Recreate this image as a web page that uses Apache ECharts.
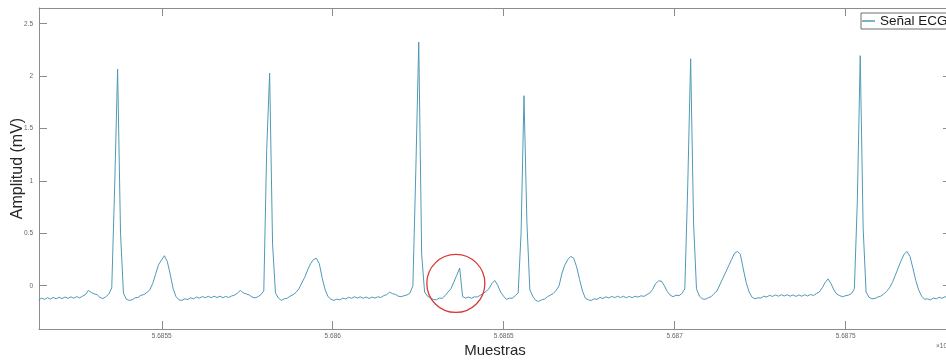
<!DOCTYPE html>
<html>
<head>
<meta charset="utf-8">
<script src="https://cdn.jsdelivr.net/npm/echarts@6/dist/echarts.min.js"></script>
<style>
  html, body { margin: 0; padding: 0; background: #ffffff; }
  #chart { width: 946px; height: 361px; }
</style>
</head>
<body>
<div id="chart"></div>
<script>
// ECG excerpt: one amplitude value (mV) every pasoMuestras samples, starting at primeraMuestra
const primeraMuestra = 5685140;
const pasoMuestras = 8.55;
const amplitud = [
  -0.135, -0.118, -0.130, -0.114, -0.127, -0.112, -0.125, -0.110, -0.123, -0.108, -0.121, -0.106, -0.119, -0.104, -0.116, -0.100, -0.085,
  -0.045, -0.065, -0.078, -0.086, -0.112, -0.122, -0.105, -0.080,
  -0.020, 0.950, 2.068, 0.500, -0.070,
  -0.130, -0.140, -0.135, -0.115, -0.112, -0.090, -0.085, -0.065, -0.040,
  0.020, 0.110, 0.200, 0.245, 0.286, 0.230, 0.110, -0.030, -0.105,
  -0.135, -0.140, -0.125, -0.132, -0.115, -0.125, -0.108, -0.118, -0.103, -0.115, -0.101, -0.114, -0.100, -0.113, -0.100, -0.114, -0.103, -0.112, -0.098,
  -0.090, -0.070, -0.045, -0.068, -0.078, -0.088, -0.108, -0.117, -0.105, -0.085,
  -0.050, 1.300, 2.030, 0.400, -0.070,
  -0.117, -0.140, -0.125, -0.120, -0.100, -0.085, -0.065,
  -0.030, 0.026, 0.080, 0.150, 0.210, 0.250, 0.262, 0.210, 0.070, -0.040, -0.105,
  -0.130, -0.140, -0.128, -0.135, -0.118, -0.127, -0.110, -0.120, -0.105, -0.118, -0.106, -0.120, -0.108, -0.122, -0.108, -0.118, -0.106, -0.112,
  -0.095, -0.085, -0.062, -0.075, -0.082, -0.100, -0.105, -0.095, -0.088, -0.070,
  0.000, 1.100, 2.325, 0.300, -0.060,
  -0.100, -0.117, -0.130, -0.135, -0.118, -0.120, -0.095, -0.060, -0.030, 0.035, 0.100,
  0.169, -0.105,
  -0.118, -0.108, -0.120, -0.106, -0.108, -0.092, -0.075, -0.055, -0.030,
  0.020, 0.050, 0.005, -0.060, -0.100, -0.130, -0.118, -0.120, -0.095, -0.070,
  0.500, 1.813, 0.600, -0.040,
  -0.100, -0.140, -0.150, -0.135, -0.128, -0.105, -0.090, -0.075, -0.045,
  0.000, 0.120, 0.200, 0.250, 0.280, 0.262, 0.180, 0.060, -0.050, -0.120,
  -0.135, -0.140, -0.125, -0.130, -0.112, -0.122, -0.106, -0.117, -0.102, -0.114, -0.100, -0.113, -0.101, -0.115, -0.102, -0.114, -0.100, -0.110, -0.096, -0.102,
  -0.085, -0.070, -0.035, 0.020, 0.045, 0.045, 0.000, -0.055, -0.090, -0.105, -0.090, -0.095, -0.075,
  -0.030, 0.950, 2.166, 0.600, -0.030,
  -0.100, -0.125, -0.130, -0.115, -0.105, -0.075, -0.050,
  0.010, 0.070, 0.130, 0.190, 0.250, 0.310, 0.327, 0.300, 0.160, 0.030, -0.060,
  -0.110, -0.125, -0.115, -0.118, -0.100, -0.108, -0.092, -0.102, -0.088, -0.100, -0.086, -0.098, -0.086, -0.100, -0.088, -0.102, -0.088, -0.100, -0.086, -0.098, -0.084, -0.093, -0.075, -0.060,
  -0.020, 0.030, 0.065, 0.020, -0.040, -0.080, -0.095, -0.105, -0.095, -0.090, -0.075,
  -0.030, 0.800, 2.195, 0.550, -0.060,
  -0.110, -0.125, -0.122, -0.108, -0.100, -0.080, -0.055, -0.020,
  0.030, 0.100, 0.170, 0.240, 0.300, 0.327, 0.280, 0.170, 0.050, -0.040,
  -0.100, -0.130, -0.125, -0.135, -0.118, -0.125, -0.110, -0.120, -0.105, -0.115, -0.103
];

const ticksMuestras = [5685500, 5686000, 5686500, 5687000, 5687500];
const ticksAmplitud = [0, 0.5, 1, 1.5, 2, 2.5];
const rangoMuestras = [5685141, 5687808];
const rangoAmplitud = [-0.413, 2.65];
const nombreSerie = 'Señal ECG';
const exponenteX = '×10⁶';
// spike marked with a red ring
const artefacto = { muestra: 5686360, amplitud: 0.022, radio: 29 };

const FUENTE = '"Liberation Sans", Arial, Helvetica, sans-serif';
const COLOR_EJE = '#8c8c8c';
const COLOR_TRAZO = '#4f9ab5';

const puntos = amplitud.map((v, i) => [primeraMuestra + i * pasoMuestras, v]);

function ejeX(pos, conEtiquetas) {
  return {
    type: 'value',
    position: pos,
    min: rangoMuestras[0],
    max: rangoMuestras[1],
    axisLine: { show: true, onZero: false, lineStyle: { color: COLOR_EJE, width: 1 } },
    axisTick: { show: true, inside: true, length: 8, customValues: ticksMuestras, lineStyle: { color: COLOR_EJE } },
    axisLabel: {
      show: conEtiquetas,
      customValues: ticksMuestras,
      formatter: v => String(+(v / 1e6).toFixed(4)),
      fontFamily: FUENTE, fontSize: 6.5, color: '#666', margin: 4
    },
    splitLine: { show: false },
    name: conEtiquetas ? 'Muestras' : '',
    nameLocation: 'middle',
    nameGap: 14,
    nameMoveOverlap: false,
    nameTextStyle: { fontFamily: FUENTE, fontSize: 15, color: '#262626' }
  };
}

function ejeY(pos, conEtiquetas) {
  return {
    type: 'value',
    position: pos,
    min: rangoAmplitud[0],
    max: rangoAmplitud[1],
    axisLine: { show: true, onZero: false, lineStyle: { color: COLOR_EJE, width: 1 } },
    axisTick: { show: true, inside: true, length: 8, customValues: ticksAmplitud, lineStyle: { color: COLOR_EJE } },
    axisLabel: {
      show: conEtiquetas,
      customValues: ticksAmplitud,
      fontFamily: FUENTE, fontSize: 6.5, color: '#666', margin: 6
    },
    splitLine: { show: false },
    name: conEtiquetas ? 'Amplitud (mV)' : '',
    nameLocation: 'middle',
    nameGap: 13,
    nameMoveOverlap: false,
    nameTextStyle: { fontFamily: FUENTE, fontSize: 16, color: '#262626' }
  };
}

const chart = echarts.init(document.getElementById('chart'), null, { renderer: 'canvas' });

chart.setOption({
  animation: false,
  backgroundColor: '#ffffff',
  grid: { left: 39, top: 8, width: 912, height: 321, containLabel: false, outerBoundsMode: 'none' },
  xAxis: [ejeX('bottom', true), ejeX('top', false)],
  yAxis: [ejeY('left', true), ejeY('right', false)],
  legend: {
    left: 861,
    top: 13,
    padding: [1, 4, 1, 1],
    itemWidth: 13,
    itemHeight: 1.5,
    borderColor: '#6e6e6e',
    borderWidth: 1,
    borderRadius: 0,
    backgroundColor: '#ffffff',
    textStyle: { fontFamily: FUENTE, fontSize: 13.5, color: '#1a1a1a' },
    data: [{ name: nombreSerie, icon: 'rect' }]
  },
  series: [{
    name: nombreSerie,
    type: 'line',
    xAxisIndex: 0,
    yAxisIndex: 0,
    data: puntos,
    showSymbol: false,
    symbol: 'none',
    smooth: false,
    sampling: 'none',
    color: COLOR_TRAZO,
    lineStyle: { color: COLOR_TRAZO, width: 1 },
    clip: true
  }]
});

const centro = chart.convertToPixel({ xAxisIndex: 0, yAxisIndex: 0 }, [artefacto.muestra, artefacto.amplitud]);
const finEje = chart.convertToPixel({ xAxisIndex: 0, yAxisIndex: 0 }, [rangoMuestras[1], rangoAmplitud[0]]);

chart.setOption({
  graphic: [
    {
      type: 'circle',
      shape: { cx: centro[0], cy: centro[1], r: artefacto.radio },
      style: { fill: 'none', stroke: '#d63b36', lineWidth: 1.3 },
      z: 100
    },
    {
      type: 'text',
      x: finEje[0] - 15,
      y: finEje[1] + 14,
      style: { text: exponenteX, fontFamily: FUENTE, fontSize: 6.5, fill: '#666' },
      z: 100
    }
  ]
});
</script>
</body>
</html>
